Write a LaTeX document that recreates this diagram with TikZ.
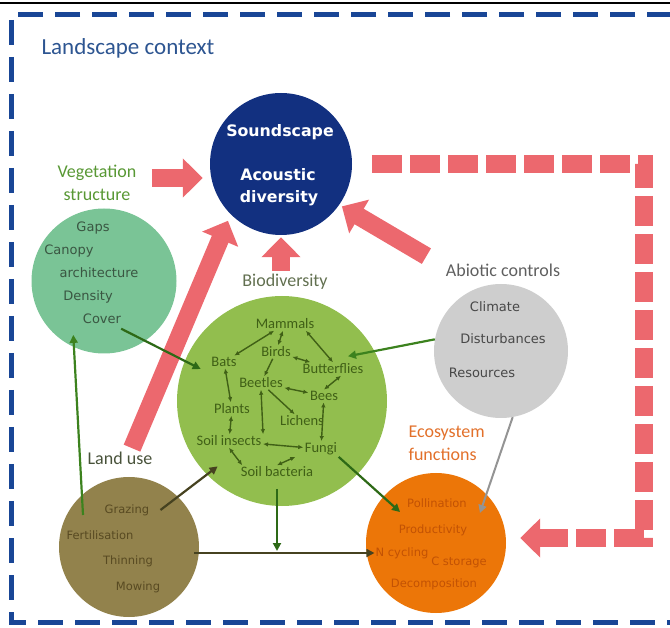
\documentclass[tikz,border=0pt]{standalone}
\usepackage{fontspec}
\setmainfont{Carlito}
\newfontfamily\dvsans{DejaVu Sans}
\usetikzlibrary{arrows.meta}

\definecolor{navy}{RGB}{18,48,128}
\definecolor{frameblue}{RGB}{25,70,150}
\definecolor{titleblue}{RGB}{45,85,145}
\definecolor{salmon}{RGB}{236,104,110}
\definecolor{vegfill}{RGB}{122,196,150}
\definecolor{veglab}{RGB}{88,152,52}
\definecolor{vegtext}{RGB}{58,86,66}
\definecolor{biofill}{RGB}{146,190,78}
\definecolor{biolab}{RGB}{98,112,80}
\definecolor{biotext}{RGB}{64,96,22}
\definecolor{darkgreen}{RGB}{45,105,22}
\definecolor{brightgreen}{RGB}{60,130,30}
\definecolor{darkolive}{RGB}{70,66,32}
\definecolor{abiofill}{RGB}{206,206,206}
\definecolor{abiotext}{RGB}{72,72,72}
\definecolor{abiolab}{RGB}{95,95,95}
\definecolor{olive}{RGB}{146,130,76}
\definecolor{olivetext}{RGB}{88,74,34}
\definecolor{lulab}{RGB}{72,82,58}
\definecolor{ecofill}{RGB}{236,118,8}
\definecolor{ecotext}{RGB}{194,82,4}
\definecolor{ecolab}{RGB}{226,112,42}

\begin{document}
\begin{tikzpicture}[x=1pt, y=-1pt]
\tikzset{
  blob/.style={circle, inner sep=0pt, minimum size=#1},
  lab/.style={font=\fontsize{18}{23}\selectfont, align=center},
  item/.style={font=\dvsans\fontsize{#1}{15}\selectfont, inner sep=1pt},
  spec/.style={font=\fontsize{14.5}{16}\selectfont, text=biotext, inner sep=1.5pt},
  soundtxt/.style={font=\dvsans\bfseries\fontsize{15.8}{18}\selectfont, text=white},
  redarrow/.style={salmon, line width=18pt, -{Triangle[length=20pt,width=38pt]}},
  greenarrow/.style={darkgreen, line width=2.2pt, -{Triangle[length=8pt,width=8pt]}},
  grayarrow/.style={black!42, line width=2pt, -{Triangle[length=8pt,width=8pt]}},
  sparrow/.style={biotext, line width=1.4pt, {Latex[length=5pt,width=4.5pt]}-{Latex[length=5pt,width=4.5pt]}},
  soarrow/.style={biotext, line width=1.4pt, -{Latex[length=5pt,width=4.5pt]}}
}
\useasboundingbox (0,0) rectangle (670,628);

% frame
\draw[line width=1.2pt] (0,3) -- (670,3);
\draw[frameblue, line width=5pt, dash pattern=on 25pt off 12pt] (672,15) -- (11,15) -- (11,622) -- (672,622);
\node[anchor=west, text=titleblue, font=\fontsize{23}{26}\selectfont] (title) at (38,48) {Landscape context};

% circles
\node[blob=142pt, fill=navy] (sound) at (281,164) {};
\node[blob=145pt, fill=vegfill] (veg) at (104,281) {};
\node[blob=210pt, fill=biofill] (bio) at (282,401) {};
\node[blob=134pt, fill=abiofill] (abio) at (501,351) {};
\node[blob=140pt, fill=olive] (lu) at (129,547) {};
\node[blob=140pt, fill=ecofill] (eco) at (436,543) {};

% labels
\node[lab, text=veglab] (veglab) at (97,183) {Vegetation\\structure};
\node[lab, text=biolab] (biolab) at (285,282) {Biodiversity};
\node[lab, text=abiolab] (abiolab) at (503,270) {Abiotic controls};
\node[lab, text=lulab] (lulab) at (120,458) {Land use};
\node[lab, text=ecolab, align=left, anchor=west] (ecolab) at (405,443) {Ecosystem\\functions};

% soundscape
\node[soundtxt] (snda) at (280,132) {Soundscape};
\node[soundtxt] (sndb) at (278,175) {Acoustic};
\node[soundtxt] (sndc) at (279,198) {diversity};

% circle contents
\foreach \nm/\px/\py/\txt in {gaps/93/228/Gaps, canopy/69/251/Canopy, arch/99/273/architecture, dens/88/297/Density, cover/102/319/Cover}
  \node[item=13, text=vegtext] (\nm) at (\px,\py) {\txt};
\foreach \nm/\px/\py/\txt in {clim/495/307/Climate, dist/503/339/Disturbances, res/482/373/Resources}
  \node[item=13, text=abiotext] (\nm) at (\px,\py) {\txt};
\foreach \nm/\px/\py/\txt in {graz/127/510/Grazing, fert/100/535/Fertilisation, thin/128/561/Thinning, mow/138/587/Mowing}
  \node[item=11.5, text=olivetext] (\nm) at (\px,\py) {\txt};
\foreach \nm/\px/\py/\txt in {pollin/437/503/Pollination, prod/433/530/Productivity, ncyc/402/553/N cycling, cstor/459/562/C storage, decomp/434/584/Decomposition}
  \node[item=11.5, text=ecotext] (\nm) at (\px,\py) {\txt};
\foreach \nm/\px/\py/\txt in {mam/285/324/Mammals, birds/276/352/Birds, bats/224/362/Bats, bfly/333/369/Butterflies, beet/261/383/Beetles, bees/324/396/Bees, plants/232/409/Plants, lich/302/421/Lichens, sins/229/441/Soil insects, fungi/321/449/Fungi, sbact/277/472/Soil bacteria}
  \node[spec] (\nm) at (\px,\py) {\txt};

% species links
\foreach \a/\b in {mam/bats, mam/birds, birds/bfly, beet/bees, bats/plants, plants/sins, bees/fungi, sins/fungi}
  \draw[sparrow] (\a) -- (\b);
\draw[sparrow] ([xshift=-10pt]mam.south east) -- (bfly.north);
\draw[sparrow] ([xshift=8pt]bfly.south) -- (bees.north);
\draw[sparrow] (beet.south) -- (sins.north east);
\draw[sparrow] (sins.south) -- ([xshift=3pt]sbact.north west);
\draw[sparrow] (sbact.north) -- ([xshift=-8pt]fungi.south west);
\draw[soarrow] (birds) -- (beet);
\draw[soarrow] (beet) -- (lich);

% red arrows to the soundscape
\draw[redarrow, shorten >=7pt] ([shift={(12pt,5pt)}]veglab.east) coordinate (vs) -- (vs -| sound.west);
\draw[redarrow, shorten >=2pt] (sound.south |- biolab.north) -- (sound.south);
\draw[redarrow, shorten >=7pt] ([xshift=12pt]lulab.north) -- (sound.225);
\draw[redarrow, shorten >=3pt] ([shift={(-16pt,4pt)}]abiolab.north west) -- (sound.-35);
\draw[salmon, line width=18pt, dash pattern=on 30pt off 8pt, -{Triangle[length=20pt,width=38pt]}]
  ([xshift=20pt]sound.east) -| ([shift={(138pt,5pt)}]eco.east) -- ([shift={(14pt,5pt)}]eco.east);

% drivers
\draw[greenarrow, shorten <=8pt] (cover) -- ([shift={(-9pt,-7pt)}]bats.west);
\draw[greenarrow, brightgreen] (abio.170) -- ([shift={(15pt,6pt)}]bfly.north);
\draw[greenarrow, brightgreen] ([shift={(-46pt,32pt)}]lu.center) -- ([yshift=12pt]veg.245);
\draw[greenarrow, darkolive] ([xshift=10pt]graz.east) -- ([shift={(10pt,9pt)}]bio.225);
\draw[greenarrow, darkolive, line width=1.6pt, shorten <=-5pt] (ncyc.west -| lu.east) -- (ncyc.west);
\draw[greenarrow, shorten <=10pt, shorten >=2pt] (sbact.south) -- (sbact.south |- ncyc.west);
\draw[greenarrow] (fungi.south east) -- ([shift={(-6pt,-9pt)}]pollin.west);
\draw[grayarrow] (abio.280) -- ([shift={(12pt,-10pt)}]pollin.east);
\end{tikzpicture}
\end{document}
